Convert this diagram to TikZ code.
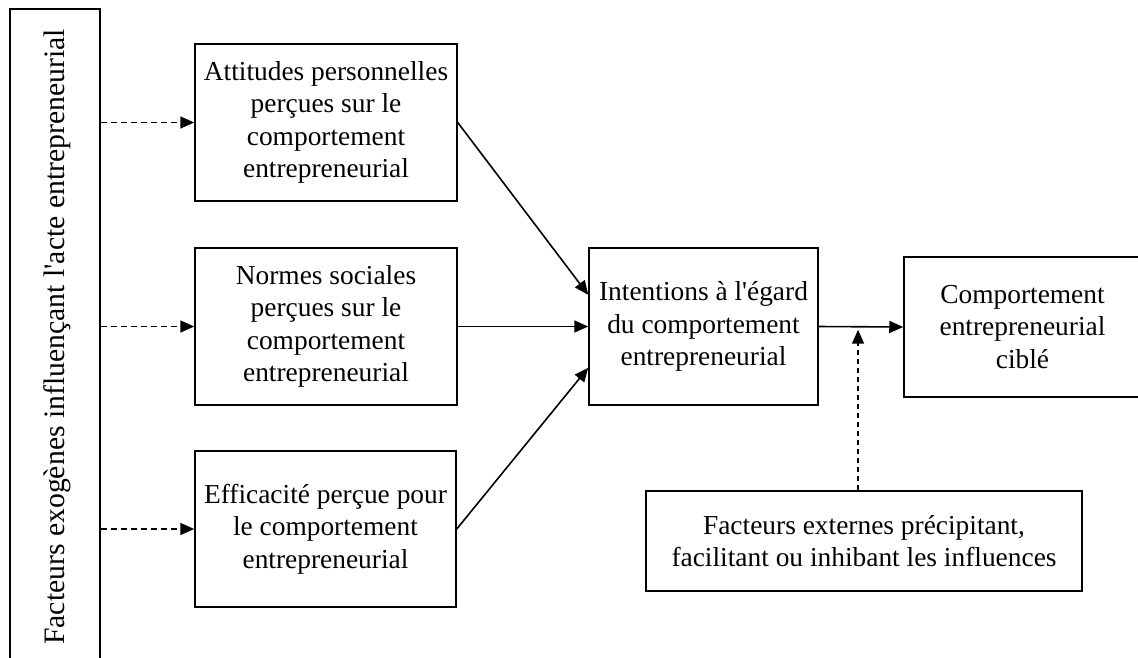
\documentclass[tikz,border=0pt]{standalone}
\usepackage{fontspec}
\setmainfont{Liberation Serif}[Ligatures=TeXOff]
\usetikzlibrary{arrows.meta,calc}
\begin{document}
\begin{tikzpicture}[x=1pt,y=-1pt,
  box/.style={draw,line width=1.5pt,inner sep=0pt,align=center,
    font=\fontsize{27.4}{32.5}\selectfont},
  solidarrow/.style={line width=1.6pt,-{Triangle[length=14pt,width=12pt]}},
  dasharrow/.style={line width=1.6pt,dash pattern=on 6pt off 4pt,-{Triangle[length=14pt,width=12pt]}}]
\useasboundingbox (0,0) rectangle (1138,657);
\clip (0,0) rectangle (1138,657);
\node[box,minimum width=90pt,minimum height=656pt] (left) at (55,337) {};
\node[rotate=90,font=\fontsize{29.7}{35}\selectfont] (lefttext) at (57,337) {Facteurs exogènes influençant l'acte entrepreneurial};
\node[box,minimum width=262pt,minimum height=157pt] (att) at (326,122.5)
  {Attitudes personnelles\\perçues sur le\\comportement\\entrepreneurial};
\node[box,minimum width=262pt,minimum height=157pt] (norm) at (326,326.5)
  {Normes sociales\\perçues sur le\\comportement\\entrepreneurial};
\node[box,minimum width=261pt,minimum height=156pt] (eff) at (325.5,529)
  {Efficacité perçue pour\\le comportement\\entrepreneurial};
\node[box,minimum width=229pt,minimum height=157pt] (int) at (703.5,326.5)
  {Intentions à l'égard\\du comportement\\entrepreneurial};
\node[box,minimum width=237pt,minimum height=140pt] (comp) at (1022.5,327)
  {Comportement\\entrepreneurial\\ciblé};
\node[box,minimum width=436pt,minimum height=100pt] (ext) at (864,541)
  {Facteurs externes précipitant,\\facilitant ou inhibant les influences};
% dashed arrows from left box
\draw[dasharrow] (att.west -| left.east) -- (att.west);
\draw[dasharrow] (norm.west -| left.east) -- (norm.west);
\draw[dasharrow] (eff.west -| left.east) -- (eff.west);
% solid arrows to intentions
\draw[solidarrow] (att.east) -- ($(int.north west)!0.3!(int.south west)$);
\draw[solidarrow] (norm.east) -- (int.west);
\draw[solidarrow] (eff.east) -- ($(int.north west)!0.76!(int.south west)$);
\draw[solidarrow] (int.east) -- (comp.west);
% moderating dashed arrow
\coordinate (j) at ($(int.east)!0.465!(comp.west)$);
\draw[dasharrow,dash pattern=on 5pt off 4pt] (ext.north -| j) -- ([yshift=-3pt]j);
\end{tikzpicture}
\end{document}
